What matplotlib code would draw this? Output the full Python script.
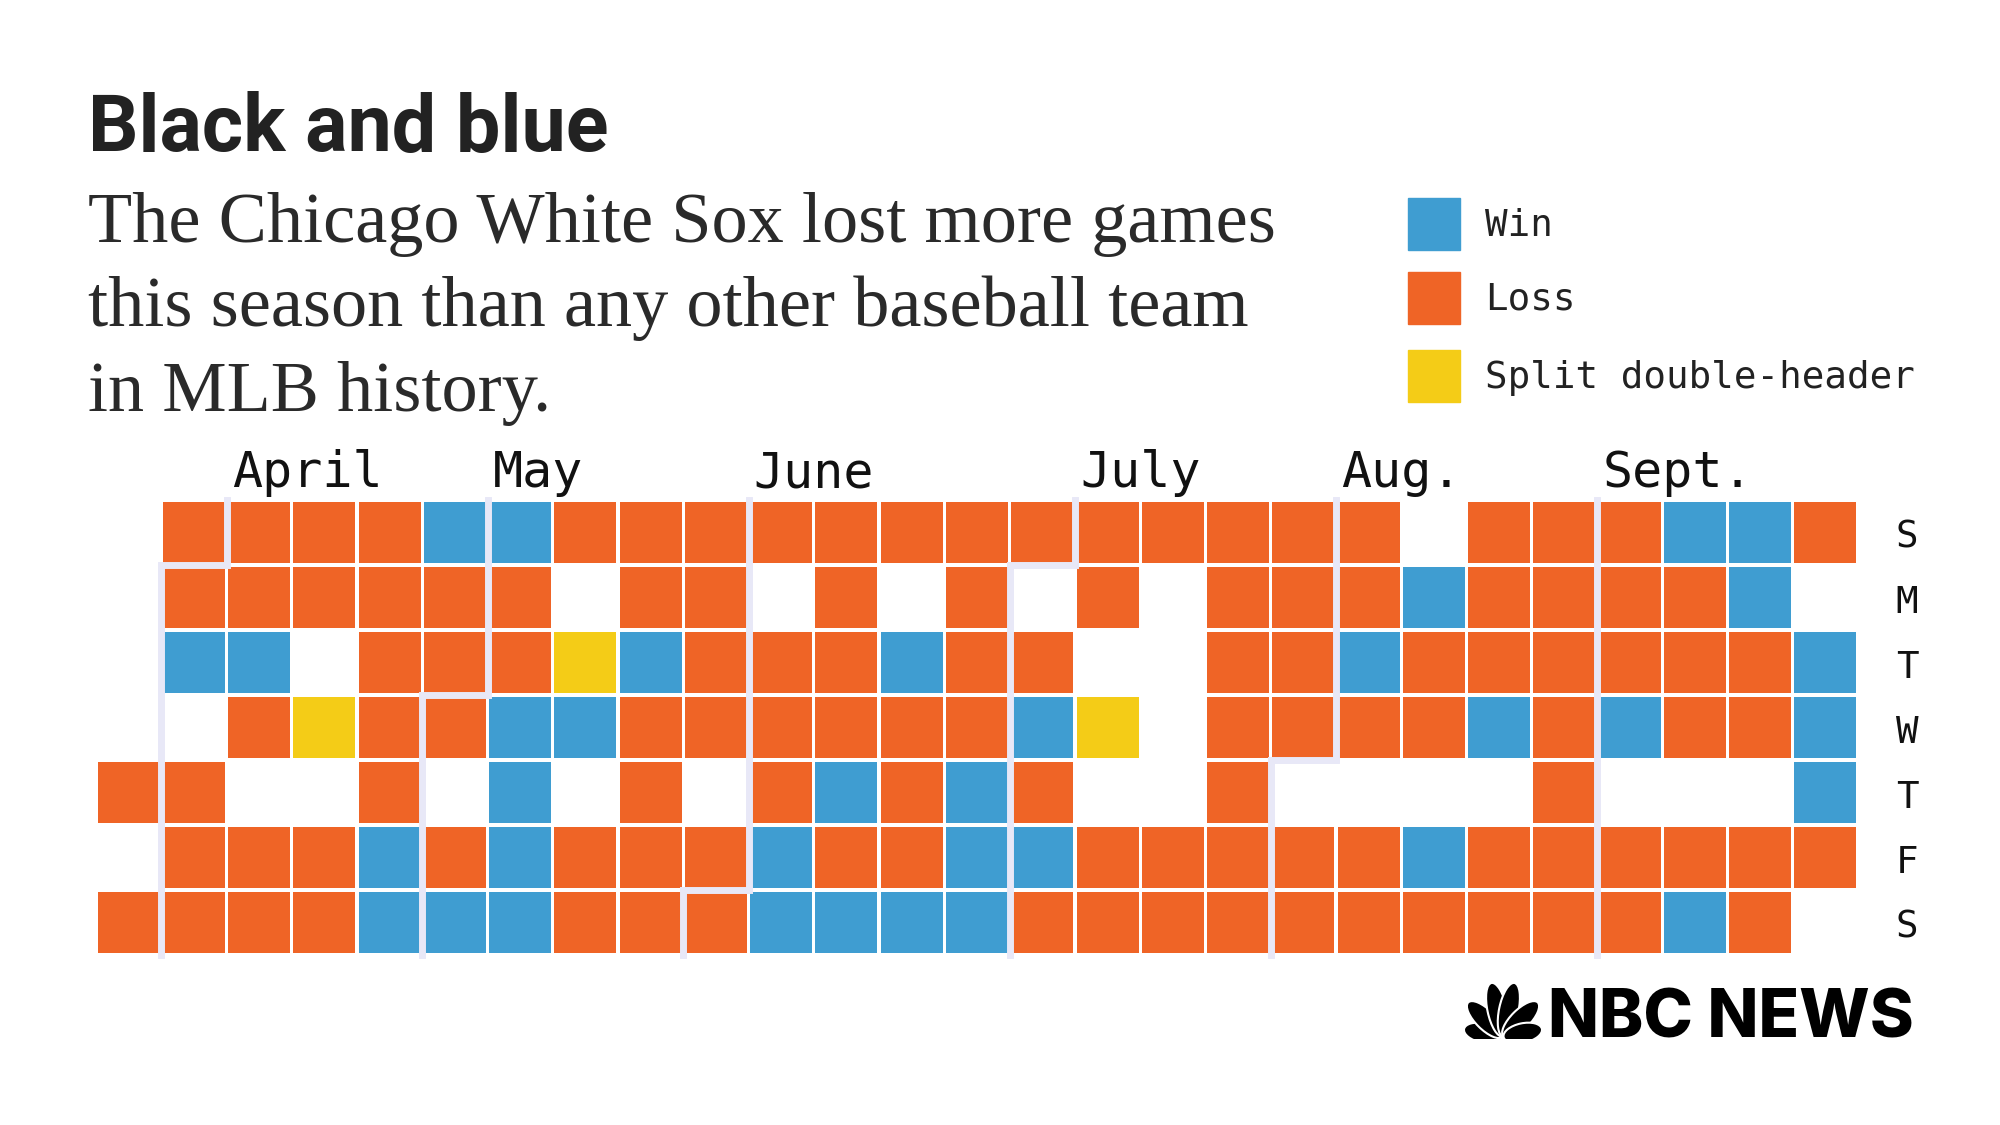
import math
import matplotlib
matplotlib.use("Agg")
import matplotlib.pyplot as plt
from matplotlib.patches import Rectangle, Ellipse

# one string per weekday row (Sun..Sat), one character per week column
# L = loss, W = win, S = split double-header, . = no game
days = ["S", "M", "T", "W", "T", "F", "S"]
games = [
    ".LLLLWWLLLLLLLLLLLLL.LLLWWL",
    ".LLLLLL.LL.L.L.L.LLLWLLLLW.",
    ".WW.LLLSWLLLWLL..LLWLLLLLLW",
    "..LSLLWWLLLLLLWS.LLLLWLWLLW",
    "LL..L.W.L.LWLWL..L....L...W",
    ".LLLWLWLLLWLLWWLLLLLWLLLLLL",
    "LLLLWWWLLLWWWWLLLLLLLLLLWL.",
]
months = ["April", "May", "June", "July", "Aug.", "Sept."]
month_label_col = [2, 6, 10, 15, 19, 23]
# week column and weekday row of the 1st of each month
month_start_col = [1, 5, 9, 14, 18, 23]
month_start_row = [1, 3, 6, 1, 4, 0]

colors = {"W": "#3F9DD1", "L": "#EF6426", "S": "#F4CC17"}
legend_labels = [("W", "Win"), ("L", "Loss"), ("S", "Split double-header")]
line_col = "#E8E8F7"

W, H = 2000, 1125
fig = plt.figure(figsize=(20, 11.25), dpi=100)
fig.patch.set_facecolor("white")


def fx(x):
    return x / W


def fy(y):
    return 1 - y / H


# headline and dek
fig.text(fx(88), fy(151), "Black and blue", family=["Roboto", "DejaVu Sans"],
         weight="bold", fontsize=57, color="#222222", va="baseline")
sub = ["The Chicago White Sox lost more games",
       "this season than any other baseball team",
       "in MLB history."]
for i, s in enumerate(sub):
    fig.text(fx(88), fy(242 + i * 84.5), s, family="Liberation Serif", fontsize=52,
             color="#2a2a2a", va="baseline")

# legend
mono = "DejaVu Sans Mono"
for i, (k, lab) in enumerate(legend_labels):
    yc = [224, 298, 376][i]
    fig.patches.append(Rectangle((fx(1408), fy(yc + 26)), 52 / W, 52 / H,
                                 transform=fig.transFigure, color=colors[k]))
    fig.text(fx(1485), fy(yc + 2), lab, family=mono, fontsize=27, va="center", color="#222222")

# calendar grid
ncol = len(games[0])
ax = fig.add_axes([fx(96), fy(955), (1858 - 96) / W, (955 - 500) / H])
ax.set_xlim(0, ncol)
ax.set_ylim(7, 0)
ax.axis("off")

g = 0.025
for r, row in enumerate(games):
    for c, v in enumerate(row):
        if v in colors:
            ax.add_patch(Rectangle((c + g, r + g), 1 - 2 * g, 1 - 2 * g,
                                   facecolor=colors[v], edgecolor="none", zorder=1))

# month separators
for c, r in zip(month_start_col, month_start_row):
    if r == 0:
        xs, ys = [c, c], [0, 7]
    else:
        xs, ys = [c + 1, c + 1, c, c], [0, r, r, 7]
    ax.plot(xs, ys, color=line_col, lw=5, zorder=3, solid_capstyle="projecting",
            solid_joinstyle="miter", clip_on=False)

for name, c in zip(months, month_label_col):
    ax.text(c + 0.08, -0.2, name, family=mono, fontsize=36, va="baseline", ha="left",
            color="#111111", clip_on=False)

for r, d in enumerate(days):
    ax.text(ncol + 0.75, r + 0.58, d, family=mono, fontsize=27, va="center", ha="center",
            color="#111111", clip_on=False)

# NBC News logo
fig.text(fx(1548), fy(1037), "NBC NEWS", family=["Inter", "DejaVu Sans"], weight="heavy",
         fontsize=48, va="baseline", color="black")
lax = fig.add_axes([fx(1456), fy(1040), 94 / W, 62 / H])
lax.set_xlim(-1.5, 1.5)
lax.set_ylim(0, 1.9)
lax.set_aspect("equal")
lax.axis("off")
for ang, ln in zip([168, 135, 102, 78, 45, 12], [1.25, 1.55, 1.75, 1.75, 1.55, 1.25]):
    a = math.radians(ang)
    d = ln / 2 + 0.02
    cx, cy = d * math.cos(a), 0.05 + d * math.sin(a)
    lax.add_patch(Ellipse((cx, cy), ln, 0.62, angle=ang, facecolor="black",
                          edgecolor="white", lw=1.5))

fig.savefig("out.png", dpi=100, facecolor="white")
